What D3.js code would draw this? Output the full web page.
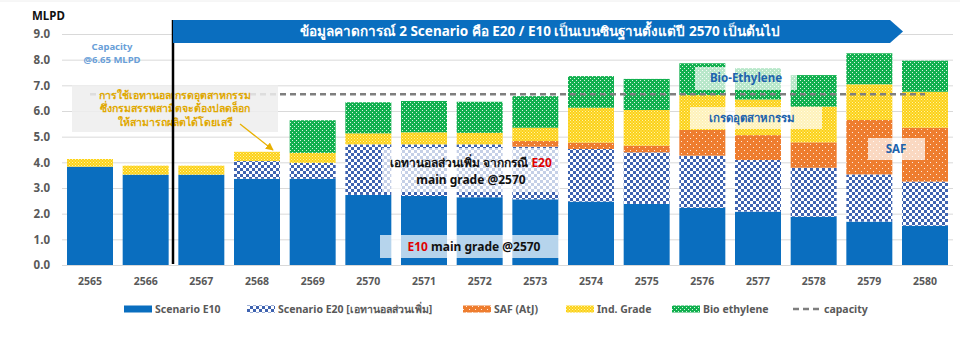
<!DOCTYPE html>
<html>
<head>
<meta charset="utf-8">
<script src="https://cdn.jsdelivr.net/npm/d3@7"></script>
<style>
  body { margin: 0; background: #fff; }
  text { font-family: "Noto Sans", "DejaVu Sans", sans-serif; }
</style>
</head>
<body>
<svg></svg>
<script>
var years = ["2565","2566","2567","2568","2569","2570","2571","2572","2573","2574","2575","2576","2577","2578","2579","2580"];
var e10 = [3.83,3.52,3.52,3.36,3.36,2.73,2.69,2.64,2.56,2.47,2.38,2.23,2.08,1.88,1.69,1.53];
var e20 = [0,0,0,0.69,0.62,1.97,2.01,2.06,2.05,2.05,2.01,2.03,2.01,1.91,1.84,1.72];
var saf = [0,0,0,0,0,0,0,0,0.22,0.25,0.26,1.00,0.97,0.99,2.12,2.10];
var ind = [0.30,0.35,0.35,0.36,0.39,0.43,0.47,0.45,0.52,1.36,1.39,1.36,1.39,1.39,1.39,1.40];
var bio = [0,0,0,0,1.27,1.21,1.22,1.21,1.23,1.23,1.21,1.24,1.22,1.23,1.21,1.21];
var capacity = 6.65;
var yTicks = [0,1,2,3,4,5,6,7,8,9];
var keys = ["e10","e20","saf","ind","bio"];
var legendNames = ["Scenario E10","Scenario E20 [เอทานอลส่วนเพิ่ม]","SAF (AtJ)","Ind. Grade","Bio ethylene","capacity"];

var svg = d3.select("svg").attr("width", 960).attr("height", 339);

// patterns
var defs = svg.append("defs");
var pChk = defs.append("pattern").attr("id","pChk").attr("patternUnits","userSpaceOnUse")
    .attr("width",6).attr("height",6);
pChk.append("rect").attr("width",6).attr("height",6).attr("fill","#fff");
pChk.append("rect").attr("width",3).attr("height",3).attr("fill","#3f63b0");
pChk.append("rect").attr("x",3).attr("y",3).attr("width",3).attr("height",3).attr("fill","#3f63b0");

function dotPattern(id, bg, dot, size, op) {
    var p = defs.append("pattern").attr("id", id).attr("patternUnits","userSpaceOnUse")
        .attr("width", size).attr("height", size);
    p.append("rect").attr("width", size).attr("height", size).attr("fill", bg);
    p.append("rect").attr("x",0).attr("y",0).attr("width",1).attr("height",1).attr("fill",dot).attr("opacity",op);
    p.append("rect").attr("x",size/2).attr("y",size/2).attr("width",1).attr("height",1).attr("fill",dot).attr("opacity",op);
}
dotPattern("pSaf", "#ee7d2f", "#fff", 6, 0.85);
dotPattern("pInd", "#fcd116", "#fff3a8", 3, 1);
dotPattern("pBio", "#12b04f", "#fff", 4, 0.85);

var fills = {e10: "#0a6ebf", e20: "url(#pChk)", saf: "url(#pSaf)", ind: "url(#pInd)", bio: "url(#pBio)"};

var x = d3.scaleBand().domain(years).range([62, 953]).paddingInner(0.174).paddingOuter(0.09);
var y = d3.scaleLinear().domain([0, 9]).range([265, 34]);

// top faint line
svg.append("line").attr("x1",0).attr("x2",960).attr("y1",1).attr("y2",1).attr("stroke","#eeeeee");

// grid + y axis
var yAxis = svg.append("g").attr("transform","translate(62,0)")
    .call(d3.axisLeft(y).tickValues(yTicks).tickSize(-891).tickFormat(d3.format(".1f")).tickPadding(12));
yAxis.select(".domain").remove();
yAxis.selectAll(".tick line").attr("stroke","#d9d9d9");
yAxis.selectAll(".tick text").attr("fill","#595959").style("font-size","11.5px").style("font-weight","bold");

svg.append("text").attr("x",32).attr("y",20).text("MLPD")
    .style("font-size","11.5px").style("font-weight","bold").attr("fill","#111");

// stacked bars
var rows = years.map(function(yr, i) {
    return {year: yr, e10: e10[i], e20: e20[i], saf: saf[i], ind: ind[i], bio: bio[i]};
});
var series = d3.stack().keys(keys)(rows);
svg.append("g").selectAll("g").data(series).enter().append("g")
    .attr("fill", function(d) { return fills[d.key]; })
  .selectAll("rect").data(function(d) { return d; }).enter().append("rect")
    .attr("x", function(d) { return x(d.data.year); })
    .attr("width", x.bandwidth())
    .attr("y", function(d) { return y(d[1]); })
    .attr("height", function(d) { return y(d[0]) - y(d[1]); });

// x axis labels
var xAxis = svg.append("g").attr("transform","translate(0,265)")
    .call(d3.axisBottom(x).tickSize(0).tickPadding(13));
xAxis.select(".domain").remove();
xAxis.selectAll(".tick text").attr("fill","#595959").style("font-size","10.5px").style("font-weight","bold");

// capacity line
svg.append("line")
    .attr("x1", x(years[0]) + x.bandwidth()/2).attr("x2", x(years[years.length-1]) + x.bandwidth()/2)
    .attr("y1", y(capacity)).attr("y2", y(capacity))
    .attr("stroke","#7f7f7f").attr("stroke-width",2.5).attr("stroke-dasharray","6,4");

// annotation box
svg.append("rect").attr("x",72).attr("y",85).attr("width",206).attr("height",47)
    .attr("fill","#ededed").attr("opacity",0.85);
var noteLines = ["การใช้เอทานอลเกรดอุตสาหกรรม","ซึ่งกรมสรรพสามิตจะต้องปลดล็อก","ให้สามารถผลิตได้โดยเสรี"];
svg.append("g").selectAll("text").data(noteLines).enter().append("text")
    .attr("x",175).attr("y", function(d,i) { return 98.5 + i*13.5; })
    .attr("text-anchor","middle").attr("fill","#e0a800")
    .style("font-size","10.5px").style("font-weight","bold").text(function(d) { return d; });
defs.append("marker").attr("id","arr").attr("viewBox","0 0 10 10").attr("refX",9).attr("refY",5)
    .attr("markerWidth",6).attr("markerHeight",6).attr("orient","auto")
  .append("path").attr("d","M0,0L10,5L0,10z").attr("fill","#e8b000");
svg.append("line").attr("x1",240).attr("y1",124).attr("x2",273).attr("y2",150)
    .attr("stroke","#e8b000").attr("stroke-width",1.3).attr("marker-end","url(#arr)");

svg.append("text").attr("x",112).attr("y",50).attr("text-anchor","middle").attr("fill","#6a9fd8")
    .style("font-size","9.5px").style("font-weight","bold").text("Capacity");
svg.append("text").attr("x",112).attr("y",63).attr("text-anchor","middle").attr("fill","#6a9fd8")
    .style("font-size","9.5px").style("font-weight","bold").text("@6.65 MLPD");

// divider + banner
svg.append("line").attr("x1",173).attr("x2",173).attr("y1",20).attr("y2",264)
    .attr("stroke","#000").attr("stroke-width",2.5);
svg.append("path").attr("d","M173,20L890,20L903,31.5L890,43L173,43Z").attr("fill","#0a6ebf");
svg.append("text").attr("x",540).attr("y",36).attr("text-anchor","middle").attr("fill","#fff")
    .style("font-size","13.5px").style("font-weight","bold")
    .text("ข้อมูลคาดการณ์ 2 Scenario คือ E20 / E10 เป็นเบนซินฐานตั้งแต่ปี 2570 เป็นต้นไป");

// in-chart labels
function labelBox(x0, y0, w, h) {
    svg.append("rect").attr("x",x0).attr("y",y0).attr("width",w).attr("height",h)
        .attr("fill","#fff").attr("opacity",0.7);
}
labelBox(382,148,178,44);
var t1 = svg.append("text").attr("x",471).attr("y",167).attr("text-anchor","middle")
    .style("font-size","12px").style("font-weight","bold").attr("fill","#111");
t1.append("tspan").text("เอทานอลส่วนเพิ่ม จากกรณี ");
t1.append("tspan").attr("fill","#e00000").text("E20");
svg.append("text").attr("x",471).attr("y",184).attr("text-anchor","middle")
    .style("font-size","12px").style("font-weight","bold").attr("fill","#111").text("main grade @2570");

labelBox(380,235,188,23);
var t2 = svg.append("text").attr("x",474).attr("y",251).attr("text-anchor","middle")
    .style("font-size","12px").style("font-weight","bold").attr("fill","#111");
t2.append("tspan").attr("fill","#e00000").text("E10");
t2.append("tspan").text(" main grade @2570");

labelBox(695,67,102,23);
svg.append("text").attr("x",746).attr("y",82).attr("text-anchor","middle").attr("fill","#1d63ad")
    .style("font-size","11.5px").style("font-weight","bold").text("Bio-Ethylene");
labelBox(690,107,132,22);
svg.append("text").attr("x",752).attr("y",122).attr("text-anchor","middle").attr("fill","#1d63ad")
    .style("font-size","11.5px").style("font-weight","bold").text("เกรดอุตสาหกรรม");
labelBox(868,138,57,22);
svg.append("text").attr("x",896).attr("y",153).attr("text-anchor","middle").attr("fill","#1d63ad")
    .style("font-size","11.5px").style("font-weight","bold").text("SAF");

// legend
var legX = [124,247,463,566,672,793];
var legFills = [fills.e10, fills.e20, fills.saf, fills.ind, fills.bio, null];
var leg = svg.append("g").selectAll("g").data(legendNames).enter().append("g")
    .attr("transform", function(d,i) { return "translate(" + legX[i] + ",309)"; });
leg.each(function(d,i) {
    var g = d3.select(this);
    if (legFills[i]) {
        g.append("rect").attr("x",0).attr("y",-3.5).attr("width",28).attr("height",7).attr("fill",legFills[i]);
    } else {
        g.append("line").attr("x1",0).attr("x2",28).attr("y1",0).attr("y2",0)
            .attr("stroke","#7f7f7f").attr("stroke-width",2.5).attr("stroke-dasharray","6,4");
    }
    g.append("text").attr("x",31).attr("y",4).attr("fill","#595959")
        .style("font-size","10.5px").style("font-weight","bold").text(d);
});
</script>
</body>
</html>
